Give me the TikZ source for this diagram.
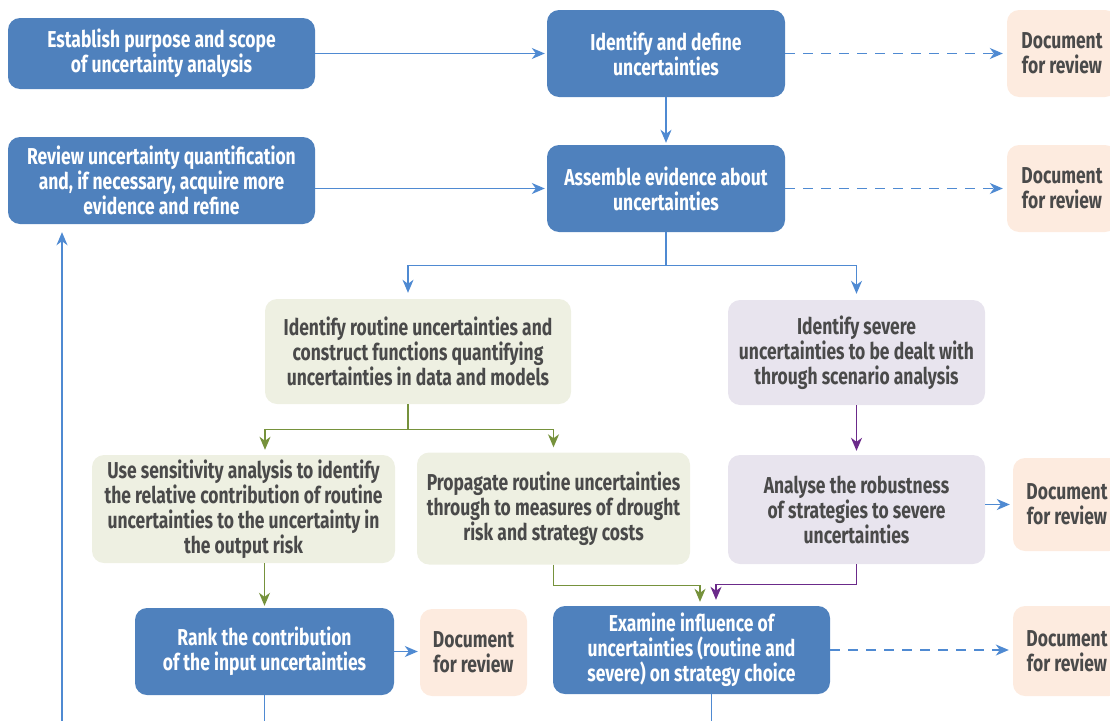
\documentclass[tikz,border=0pt]{standalone}
\usepackage{fontspec}
\usetikzlibrary{arrows.meta,calc}
\newfontfamily\condfont[FakeStretch=0.76]{Fira Sans}
\definecolor{boxblue}{HTML}{4F81BD}
\definecolor{lineblue}{HTML}{4F8AD2}
\definecolor{routinefill}{HTML}{EEF0E2}
\definecolor{severefill}{HTML}{E8E4EE}
\definecolor{docfill}{HTML}{FDEBDF}
\definecolor{textgray}{HTML}{4A4A4A}
\definecolor{routinegreen}{HTML}{76923C}
\definecolor{severepurple}{HTML}{6B2A8A}
\tikzset{
  base/.style={rectangle, rounded corners=12pt, align=center, inner sep=2pt,
    font=\condfont\bfseries\fontsize{23}{25}\selectfont},
  mainbox/.style={base, fill=boxblue, text=white},
  routinebox/.style={base, fill=routinefill, text=textgray},
  severebox/.style={base, fill=severefill, text=textgray},
  docbox/.style={base, fill=docfill, text=textgray},
  flow/.style={line width=1.4pt, -{Stealth[length=13pt,width=11pt,inset=4pt]}},
  blueflow/.style={flow, draw=lineblue},
  greenflow/.style={flow, draw=routinegreen},
  purpleflow/.style={flow, draw=severepurple},
  dashflow/.style={blueflow, dash pattern=on 10pt off 8pt},
}
\begin{document}
\begin{tikzpicture}[x=1pt,y=-1pt]
\useasboundingbox (0,0) rectangle (1110,720);

% top row
\node[mainbox, minimum width=307pt, minimum height=71pt] (A) at (161.5,53.5)
  {Establish purpose and scope\\of uncertainty analysis};
\node[mainbox, minimum width=238pt, minimum height=87pt] (B) at (666,53.5)
  {Identify and define\\uncertainties};
\node[docbox, minimum width=110pt, minimum height=87pt] (doc1) at (1062,53.5)
  {Document\\for review};

% second row
\node[mainbox, minimum width=307pt, minimum height=87pt] (C) at (161.5,180.5)
  {Review uncertainty quantification\\and, if necessary, acquire more\\evidence and refine};
\node[mainbox, minimum width=238pt, minimum height=87pt] (D) at (666,188.5)
  {Assemble evidence about\\uncertainties};
\node[docbox, minimum width=110pt, minimum height=87pt] (doc2) at (1062,188.5)
  {Document\\for review};

% routine and severe branches
\node[routinebox, minimum width=306pt, minimum height=105pt] (E) at (418,351.5)
  {Identify routine uncertainties and\\construct functions quantifying\\uncertainties in data and models};
\node[severebox, minimum width=257pt, minimum height=105pt] (F) at (856.5,352.5)
  {Identify severe\\uncertainties to be dealt with\\through scenario analysis};

\node[routinebox, minimum width=303pt, minimum height=108pt] (G) at (243.5,509)
  {Use sensitivity analysis to identify\\the relative contribution of routine\\uncertainties to the uncertainty in\\the output risk};
\node[routinebox, minimum width=273pt, minimum height=112pt] (H) at (553.5,508.5)
  {Propagate routine uncertainties\\through to measures of drought\\risk and strategy costs};
\node[severebox, minimum width=257pt, minimum height=109pt] (I) at (856.5,509.5)
  {Analyse the robustness\\of strategies to severe\\uncertainties};
\node[docbox, minimum width=108pt, minimum height=93pt] (doc3) at (1067,504.5)
  {Document\\for review};

% bottom row
\node[mainbox, minimum width=259pt, minimum height=87pt] (J) at (264.5,651.5)
  {Rank the contribution\\of the input uncertainties};
\node[docbox, minimum width=107pt, minimum height=87pt] (doc4) at (473.5,652.5)
  {Document\\for review};
\node[mainbox, minimum width=277pt, minimum height=88pt] (K) at (691.5,650)
  {Examine influence of\\uncertainties (routine and\\severe) on strategy choice};
\node[docbox, minimum width=108pt, minimum height=90pt] (doc5) at (1067,651)
  {Document\\for review};

% connectors
\draw[blueflow, shorten >=2pt] (A.east) -- (A.east -| B.west);
\draw[blueflow, shorten >=2pt] (D.west -| C.east) -- (D.west);
\draw[blueflow, shorten >=2pt] (B.south) -- (D.north);
\draw[dashflow, shorten >=4pt] (B.east) -- (doc1.west);
\draw[dashflow, shorten >=4pt] (D.east) -- (doc2.west);

\coordinate (dsplit) at ($(D.south)+(0,33)$);
\draw[line width=1.4pt, lineblue] (D.south) -- (dsplit);
\draw[blueflow, shorten >=6pt] (dsplit) -| ([xshift=-10pt]E.north);
\draw[blueflow, shorten >=6pt] (dsplit) -| (F.north);

\coordinate (esplit) at ($(E.south)+(-10,25)$);
\draw[line width=1.4pt, routinegreen] ([xshift=-10pt]E.south) -- (esplit);
\draw[greenflow, shorten >=5pt] (esplit) -| ([xshift=21.5pt]G.north);
\draw[greenflow, shorten >=5pt] (esplit) -| (H.north);

\draw[purpleflow, shorten >=4pt] (F.south) -- (I.north);
\draw[blueflow, shorten >=3pt] (doc3.west -| I.east) -- (doc3.west);

\draw[greenflow, shorten >=2pt] (J.north |- G.south) -- (J.north);
\draw[blueflow, shorten >=2pt] (J.east) -- (J.east -| doc4.west);

\draw[greenflow, shorten >=4pt] (H.south) -- ++(0,21) -| ([xshift=8.5pt]K.north);
\draw[purpleflow, shorten >=6pt] (I.south) -- ++(0,20) -| ([xshift=24.5pt]K.north);
\draw[dashflow, shorten >=4pt] (K.east) -- (K.east -| doc5.west);

% returns running off the lower edge
\coordinate (jout) at ($(J.south)+(0,40)$);
\coordinate (kout) at ($(K.south)+(20,40)$);
\coordinate (loopin) at (62,740);
\draw[line width=1.4pt, lineblue] (J.south) -- (jout);
\draw[line width=1.4pt, lineblue] ([xshift=20pt]K.south) -- (kout);
\draw[blueflow, shorten >=8pt] (loopin) -- (loopin |- C.south);
\end{tikzpicture}
\end{document}
